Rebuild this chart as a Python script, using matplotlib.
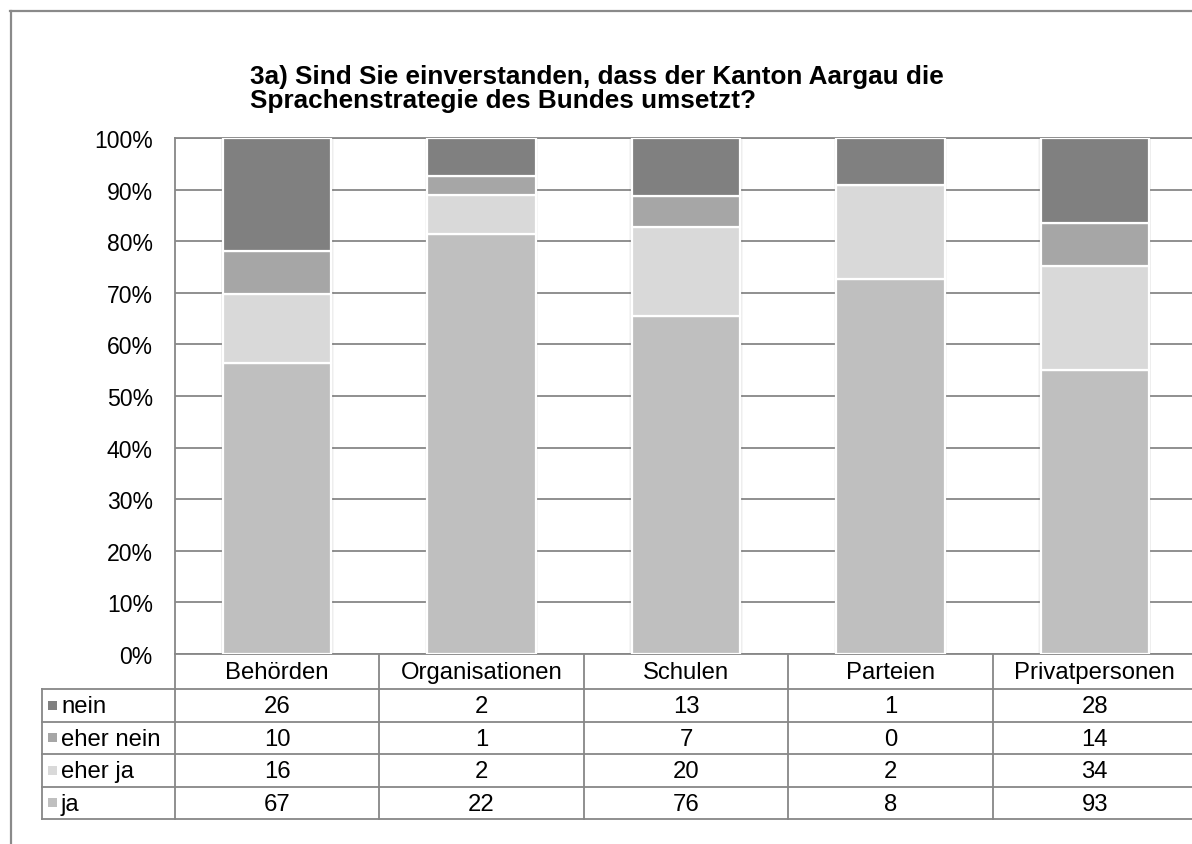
"""Stacked 100% bar chart with data table (Excel style)."""

import matplotlib
matplotlib.use("Agg")
import matplotlib.pyplot as plt
from matplotlib.lines import Line2D
from matplotlib.patches import Rectangle
import numpy as np

plt.rcParams["font.family"] = ["Liberation Sans", "DejaVu Sans"]

# data
categories = ["Behörden", "Organisationen", "Schulen", "Parteien", "Privatpersonen"]
ja = [67, 22, 76, 8, 93]
eher_ja = [16, 2, 20, 2, 34]
eher_nein = [10, 1, 7, 0, 14]
nein = [26, 2, 13, 1, 28]
series_names = ["ja", "eher ja", "eher nein", "nein"]       # bottom -> top
series_colors = ["#bfbfbf", "#d9d9d9", "#a6a6a6", "#808080"]
y_ticks = [0, 10, 20, 30, 40, 50, 60, 70, 80, 90, 100]
y_tick_labels = [f"{t}%" for t in y_ticks]
title_lines = ["3a) Sind Sie einverstanden, dass der Kanton Aargau die",
               "Sprachenstrategie des Bundes umsetzt?"]

series = [ja, eher_ja, eher_nein, nein]
counts = np.array(series, dtype=float)
pct = counts / counts.sum(axis=0) * 100

# layout in pixels
W, H = 1192, 845
p_left, p_right, p_top, p_bottom = 175, 1197, 139, 655
grid_col = "#878787"
fs_tick = 16.6
fs_tbl = 17.2

fig = plt.figure(figsize=(W / 100, H / 100), dpi=100)
ax = fig.add_axes([p_left / W, 1 - p_bottom / H,
                   (p_right - p_left) / W, (p_bottom - p_top) / H])

x = np.arange(len(categories))
bw = 0.53

# soft shadow behind bars
for k in range(3):
    ax.bar(x, 100, width=bw + 0.008 * (k + 1), color="black", alpha=0.035,
           linewidth=0, zorder=2)

bottom = np.zeros(len(categories))
for vals, name, col in zip(pct, series_names, series_colors):
    ax.bar(x, vals, bottom=bottom, width=bw, color=col, edgecolor="white",
           linewidth=1.6, label=name, zorder=3)
    bottom += vals

ax.set_xlim(-0.5, len(categories) - 0.5)
ax.set_ylim(0, 100)
ax.set_yticks(y_ticks)
ax.set_yticklabels(y_tick_labels, fontsize=fs_tick)
ax.set_xticks([])
ax.tick_params(axis="y", length=0, pad=16)
ax.yaxis.grid(True, color=grid_col, linewidth=1.3)
ax.set_axisbelow(True)
for s in ax.spines.values():
    s.set_color(grid_col)
    s.set_linewidth(1.3)

# overlay in pixel coordinates for table, frame and title
ov = fig.add_axes([0, 0, 1, 1])
ov.set_xlim(0, W)
ov.set_ylim(H, 0)
ov.axis("off")
ov.patch.set_visible(False)

# outer chart frame
ov.add_line(Line2D([10.5, 10.5], [12, H], color="#8a8a8a", linewidth=1.6))
ov.add_line(Line2D([10, W], [12, 12], color="#8a8a8a", linewidth=1.6))

# title
ov.text(250, 84, title_lines[0], fontsize=18.8, fontweight="bold", ha="left", va="baseline")
ov.text(250, 108, title_lines[1], fontsize=18.8, fontweight="bold", ha="left", va="baseline")

# data table
col_w = (p_right - p_left) / len(categories)
edges = [p_left + i * col_w for i in range(len(categories) + 1)]
tbl_left = 42
head_bottom = 690
row_h = 32.5
n_rows = len(series_names)
tbl_bottom = head_bottom + n_rows * row_h

for e in edges:
    ov.add_line(Line2D([e, e], [p_bottom, tbl_bottom], color=grid_col, linewidth=1.3))
ov.add_line(Line2D([tbl_left, tbl_left], [head_bottom, tbl_bottom], color=grid_col, linewidth=1.3))
for r in range(n_rows + 1):
    yy = head_bottom + r * row_h
    ov.add_line(Line2D([tbl_left, p_right], [yy, yy], color=grid_col, linewidth=1.3))

for i, cat in enumerate(categories):
    cx = (edges[i] + edges[i + 1]) / 2
    ov.text(cx, (p_bottom + head_bottom) / 2 + 1, cat, fontsize=fs_tbl, ha="center", va="center")

rows_top_down = list(zip(series_names, series_colors, series))[::-1]
for r, (name, col, vals) in enumerate(rows_top_down):
    cy = head_bottom + (r + 0.5) * row_h
    ov.add_patch(Rectangle((48, cy - 4.5), 9, 9, color=col, linewidth=0))
    ov.text(61, cy + 1, name, fontsize=fs_tbl, ha="left", va="center")
    for i, v in enumerate(vals):
        cx = (edges[i] + edges[i + 1]) / 2
        ov.text(cx, cy + 1, str(v), fontsize=fs_tbl, ha="center", va="center")

fig.savefig("out.png", dpi=100)
